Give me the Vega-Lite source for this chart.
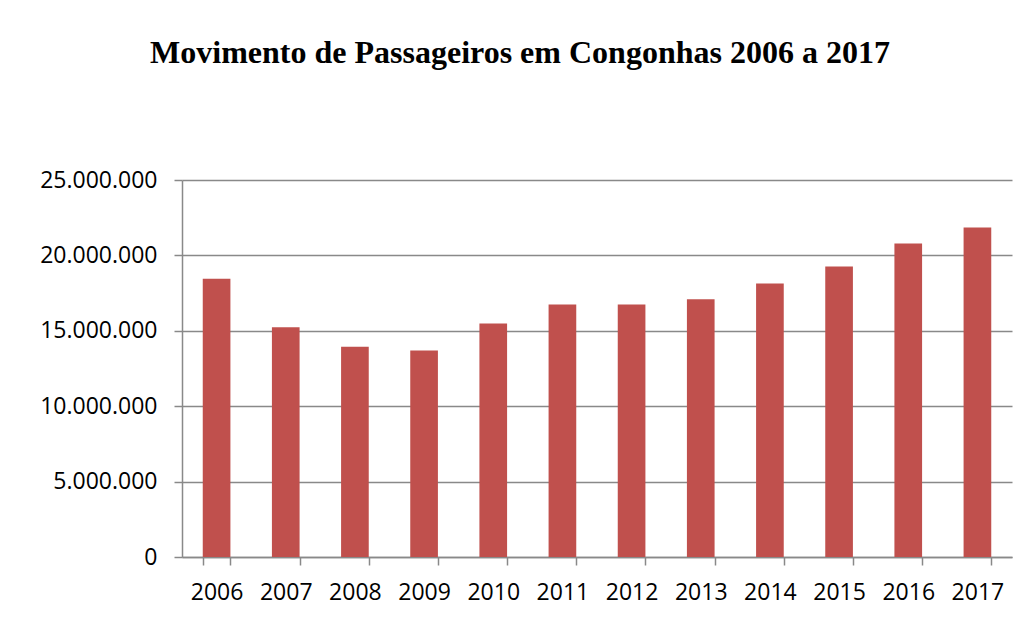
{
  "$schema": "https://vega.github.io/schema/vega-lite/v6.json",
  "width": 830,
  "height": 377,
  "autosize": "none",
  "padding": {"left": 182, "top": 180, "right": 16, "bottom": 61},
  "background": "white",
  "config": {
    "locale": {"number": {"decimal": ",", "thousands": ".", "grouping": [3], "currency": ["R$", ""]}},
    "view": {"stroke": null},
    "font": "Open Sans"
  },
  "title": {
    "text": "Movimento de Passageiros em Congonhas 2006 a 2017",
    "font": "Liberation Serif",
    "fontSize": 32,
    "fontWeight": "bold",
    "color": "black",
    "anchor": "middle",
    "dx": -77,
    "offset": 74,
    "baseline": "alphabetic"
  },
  "data": {
    "values": [
      {"ano": "2006", "passageiros": 18450000},
      {"ano": "2007", "passageiros": 15240000},
      {"ano": "2008", "passageiros": 13940000},
      {"ano": "2009", "passageiros": 13690000},
      {"ano": "2010", "passageiros": 15480000},
      {"ano": "2011", "passageiros": 16740000},
      {"ano": "2012", "passageiros": 16750000},
      {"ano": "2013", "passageiros": 17100000},
      {"ano": "2014", "passageiros": 18130000},
      {"ano": "2015", "passageiros": 19260000},
      {"ano": "2016", "passageiros": 20790000},
      {"ano": "2017", "passageiros": 21850000}
    ]
  },
  "mark": {"type": "bar", "color": "#C0504D"},
  "encoding": {
    "x": {
      "field": "ano",
      "type": "ordinal",
      "scale": {"paddingInner": 0.6, "paddingOuter": 0.3},
      "axis": {
        "title": null,
        "labelAngle": 0,
        "labelFontSize": 23,
        "labelColor": "black",
        "labelPadding": 16,
        "tickBand": "extent",
        "tickSize": 8,
        "tickColor": "#898989",
        "tickWidth": 1.5,
        "domainColor": "#898989",
        "domainWidth": 1.5,
        "grid": false
      }
    },
    "y": {
      "field": "passageiros",
      "type": "quantitative",
      "scale": {"domain": [0, 25000000], "nice": false},
      "axis": {
        "title": null,
        "values": [0, 5000000, 10000000, 15000000, 20000000, 25000000],
        "format": ",d",
        "labelFontSize": 23,
        "labelColor": "black",
        "labelPadding": 17,
        "tickSize": 8,
        "tickColor": "#898989",
        "tickWidth": 1.5,
        "domainColor": "#898989",
        "domainWidth": 1.5,
        "grid": true,
        "gridColor": "#898989",
        "gridWidth": 1.5
      }
    }
  }
}
